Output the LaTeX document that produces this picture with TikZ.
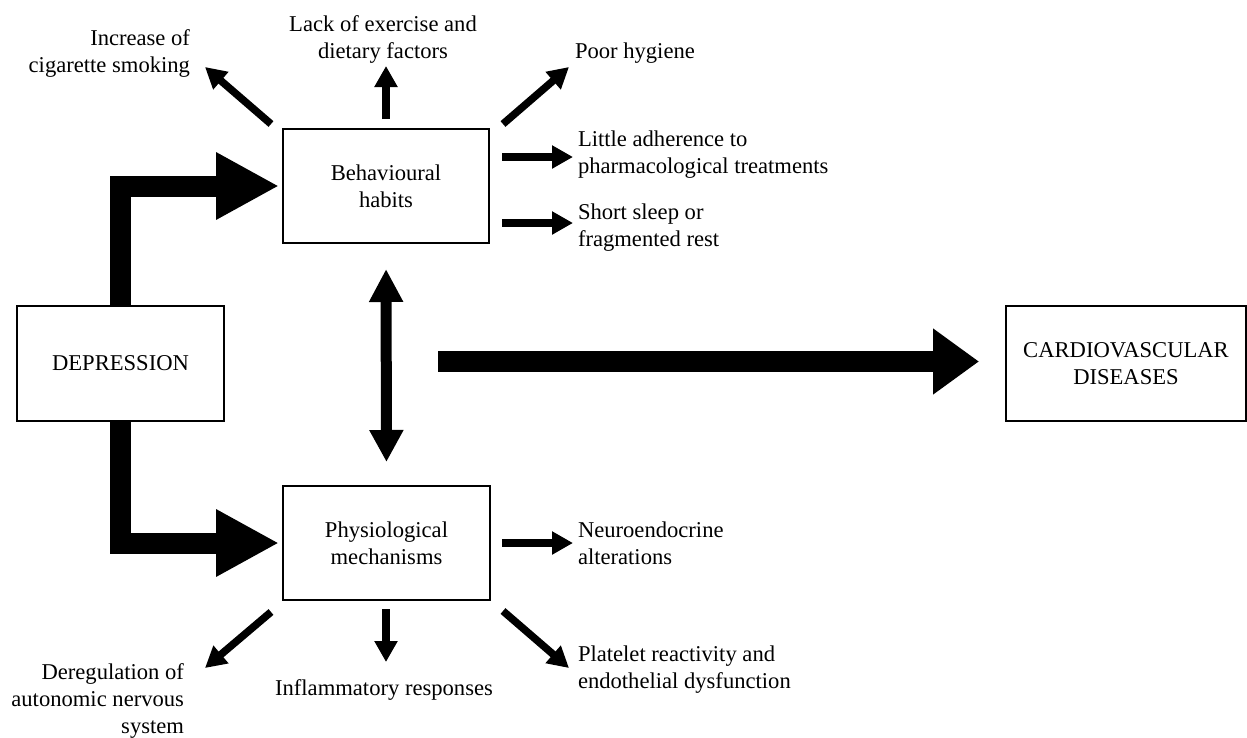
\documentclass[tikz,border=0pt]{standalone}
\usepackage{fontspec}
\setmainfont{Liberation Serif}
\usetikzlibrary{arrows.meta}
\newcommand\lblfont{\fontsize{22.6}{27}\selectfont}
\begin{document}
\begin{tikzpicture}[x=1pt,y=-1pt,
  box/.style={draw, line width=2.4pt, inner sep=0pt, outer sep=0pt, align=center, font=\lblfont, minimum height=114pt},
  lbl/.style={inner sep=0pt, outer sep=0pt, font=\lblfont},
  thinarrow/.style={line width=7.5pt, -{Triangle[length=21pt,width=22pt]}},
  elbowarrow/.style={line width=21pt, line join=miter, -{Triangle[length=63pt,width=63pt]}},
  longarrow/.style={line width=21pt, -{Triangle[length=46pt,width=63pt]}},
  dblarrow/.style={line width=11pt, {Triangle[length=33pt,width=32pt]}-{Triangle[length=32pt,width=32pt]}}
]
\fill[white] (0,0) rectangle (1247,737);
\useasboundingbox (0,0) rectangle (1247,737);

% boxes
\node[box, minimum width=206pt] (beh) at (386,186) {Behavioural\\habits};
\node[box, minimum width=207pt] (phys) at (386.5,543) {Physiological\\mechanisms};
\node[box, minimum width=207pt, minimum height=115pt] (dep) at (120.5,363.5) {DEPRESSION};
\node[box, minimum width=240pt, minimum height=115pt] (cvd) at (1126,363.5) {CARDIOVASCULAR\\DISEASES};

% labels (base anchor = baseline of the last line)
\node[lbl, anchor=base east, align=right] (smk) at (190,72) {Increase of\\cigarette smoking};
\node[lbl, anchor=base, align=center] (lack) at (383,58) {Lack of exercise and\\dietary factors};
\node[lbl, anchor=base west] (hyg) at (575,58) {Poor hygiene};
\node[lbl, anchor=base west, align=left] (adh) at (578,173) {Little adherence to\\pharmacological treatments};
\node[lbl, anchor=base west, align=left] (slp) at (578,246) {Short sleep or\\fragmented rest};
\node[lbl, anchor=base west, align=left] (neu) at (578,564) {Neuroendocrine\\alterations};
\node[lbl, anchor=base west, align=left] (plt) at (578,688) {Platelet reactivity and\\endothelial dysfunction};
\node[lbl, anchor=base] (inf) at (384,695) {Inflammatory responses};
\node[lbl, anchor=base east, align=right] (der) at (184,733) {Deregulation of\\autonomic nervous\\system};

% small arrow end points
\coordinate (smkS) at (271,124); \coordinate (smkT) at (205,67);
\coordinate (lackS) at (386,119); \coordinate (lackT) at (386,66);
\coordinate (hygS) at (503,124); \coordinate (hygT) at (569,67);
\coordinate (adhS) at (502,157); \coordinate (adhT) at (573,157);
\coordinate (slpS) at (502,223); \coordinate (slpT) at (573,223);
\coordinate (neuS) at (502,543); \coordinate (neuT) at (573,543);
\coordinate (pltS) at (503,611); \coordinate (pltT) at (569,668);
\coordinate (infS) at (386,609); \coordinate (infT) at (386,662);
\coordinate (derS) at (271,612); \coordinate (derT) at (205,668);

\draw[thinarrow] (smkS) -- (smkT);
\draw[thinarrow] (lackS) -- (lackT);
\draw[thinarrow] (hygS) -- (hygT);
\draw[thinarrow] (adhS) -- (adhT);
\draw[thinarrow] (slpS) -- (slpT);
\draw[thinarrow] (neuS) -- (neuT);
\draw[thinarrow] (pltS) -- (pltT);
\draw[thinarrow] (infS) -- (infT);
\draw[thinarrow] (derS) -- (derT);

% big arrows
\draw[elbowarrow] (dep.north) |- ([xshift=-4pt]beh.west);
\draw[elbowarrow] (dep.south) |- ([xshift=-4pt]phys.west);
\draw[dblarrow, shorten <=26pt, shorten >=24pt] (beh.south) -- (phys.north);
\coordinate (lgS) at (438,361.5);
\draw[longarrow, shorten >=27pt] (lgS) -- (lgS -| cvd.west);
\end{tikzpicture}
\end{document}
